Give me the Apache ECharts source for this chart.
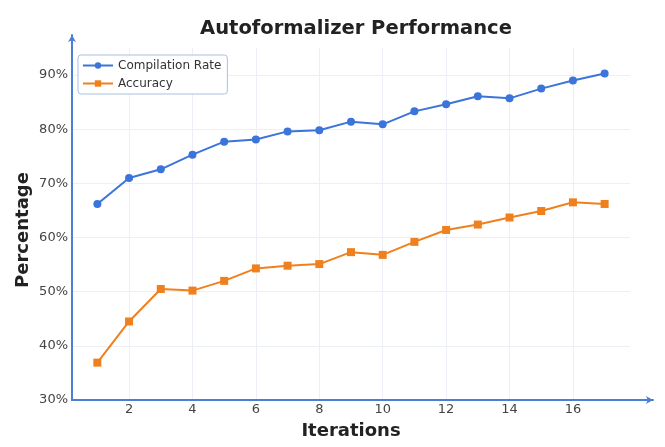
<!DOCTYPE html>
<html>
<head>
<meta charset="utf-8">
<script src="https://cdn.jsdelivr.net/npm/echarts@6/dist/echarts.min.js"></script>
<style>html,body{margin:0;padding:0;background:#fff}#c{width:665px;height:447px}</style>
</head>
<body>
<div id="c"></div>
<script>
const iterations = [1,2,3,4,5,6,7,8,9,10,11,12,13,14,15,16,17];
const compilationRate = [66.2,71.0,72.6,75.3,77.7,78.1,79.6,79.8,81.4,80.9,83.3,84.6,86.1,85.7,87.5,89.0,90.3];
const accuracy = [36.9,44.5,50.5,50.2,52.0,54.3,54.8,55.1,57.3,56.8,59.2,61.4,62.4,63.7,64.9,66.5,66.2];
const xTicks = [2,4,6,8,10,12,14,16];
const yTicks = [30,40,50,60,70,80,90];

const FONT = 'DejaVu Sans';
const BLUE = '#3b74da';
const ORANGE = '#f0801e';
const AXIS = '#4a7fd6';
const GRIDC = '#eceff5';

const chart = echarts.init(document.getElementById('c'), null, {renderer:'canvas'});
chart.setOption({
  animation: false,
  backgroundColor: '#fff',
  textStyle: {fontFamily: FONT},
  title: {
    text: 'Autoformalizer Performance',
    left: 351, top: 14, textAlign: 'center',
    textStyle: {fontFamily: FONT, fontSize: 19.5, fontWeight: 'bold', color: '#222'}
  },
  legend: {
    orient: 'vertical', left: 78, top: 55,
    padding: [4, 6, 4, 4],
    itemGap: 5, itemWidth: 30, itemHeight: 8,
    backgroundColor: '#fff', borderColor: '#a9c0e4', borderWidth: 1, borderRadius: 3,
    textStyle: {fontFamily: FONT, fontSize: 12, color: '#333', lineHeight: 13},
    data: ['Compilation Rate', 'Accuracy']
  },
  grid: [
    {left: 72, right: 35, top: 48, bottom: 47},
    {left: 72, right: 12, top: 35, bottom: 47}
  ],
  xAxis: [
    {
      type: 'value', gridIndex: 0, min: 0.2, max: 17.8, splitNumber: 8,
      axisLine: {show: false}, axisTick: {show: false},
      axisLabel: {
        margin: 3, fontFamily: FONT, fontSize: 13, color: '#444',
        showMinLabel: false, showMaxLabel: false,
        formatter: v => xTicks.includes(v) ? String(v) : ''
      },
      splitLine: {show: true, showMinLine: false, showMaxLine: false, lineStyle: {color: GRIDC, width: 1}},
      name: 'Iterations', nameLocation: 'middle', nameGap: 22,
      nameTextStyle: {fontFamily: FONT, fontSize: 18, fontWeight: 'bold', color: '#222'}
    },
    {
      type: 'value', gridIndex: 1, min: 0, max: 1,
      axisLine: {show: true, onZero: false, symbol: ['none', 'arrow'], symbolSize: [6, 7], lineStyle: {color: AXIS, width: 2}},
      axisTick: {show: false}, axisLabel: {show: false}, splitLine: {show: false}
    }
  ],
  yAxis: [
    {
      type: 'value', gridIndex: 0, min: 30, max: 95, interval: 10,
      axisLine: {show: false}, axisTick: {show: false},
      axisLabel: {
        margin: 4, fontFamily: FONT, fontSize: 13, color: '#444',
        showMinLabel: true, showMaxLabel: false,
        formatter: v => yTicks.includes(v) ? v + '%' : ''
      },
      splitLine: {show: true, showMinLine: false, showMaxLine: false, lineStyle: {color: GRIDC, width: 1}},
      name: 'Percentage', nameLocation: 'middle', nameGap: 40, nameRotate: 90, nameMoveOverlap: false,
      nameTextStyle: {fontFamily: FONT, fontSize: 18, fontWeight: 'bold', color: '#222', padding: [0, 12, 0, 0]}
    },
    {
      type: 'value', gridIndex: 1, min: 0, max: 1,
      axisLine: {show: true, onZero: false, symbol: ['none', 'arrow'], symbolSize: [6, 7], lineStyle: {color: AXIS, width: 2}},
      axisTick: {show: false}, axisLabel: {show: false}, splitLine: {show: false}
    }
  ],
  series: [
    {
      name: 'Compilation Rate', type: 'line', xAxisIndex: 0, yAxisIndex: 0,
      data: iterations.map((x, i) => [x, compilationRate[i]]),
      symbol: 'circle', symbolSize: 8, showAllSymbol: true,
      lineStyle: {color: BLUE, width: 2}, itemStyle: {color: BLUE}
    },
    {
      name: 'Accuracy', type: 'line', xAxisIndex: 0, yAxisIndex: 0,
      data: iterations.map((x, i) => [x, accuracy[i]]),
      symbol: 'rect', symbolSize: 8, showAllSymbol: true,
      lineStyle: {color: ORANGE, width: 2}, itemStyle: {color: ORANGE}
    }
  ]
});
</script>
</body>
</html>
